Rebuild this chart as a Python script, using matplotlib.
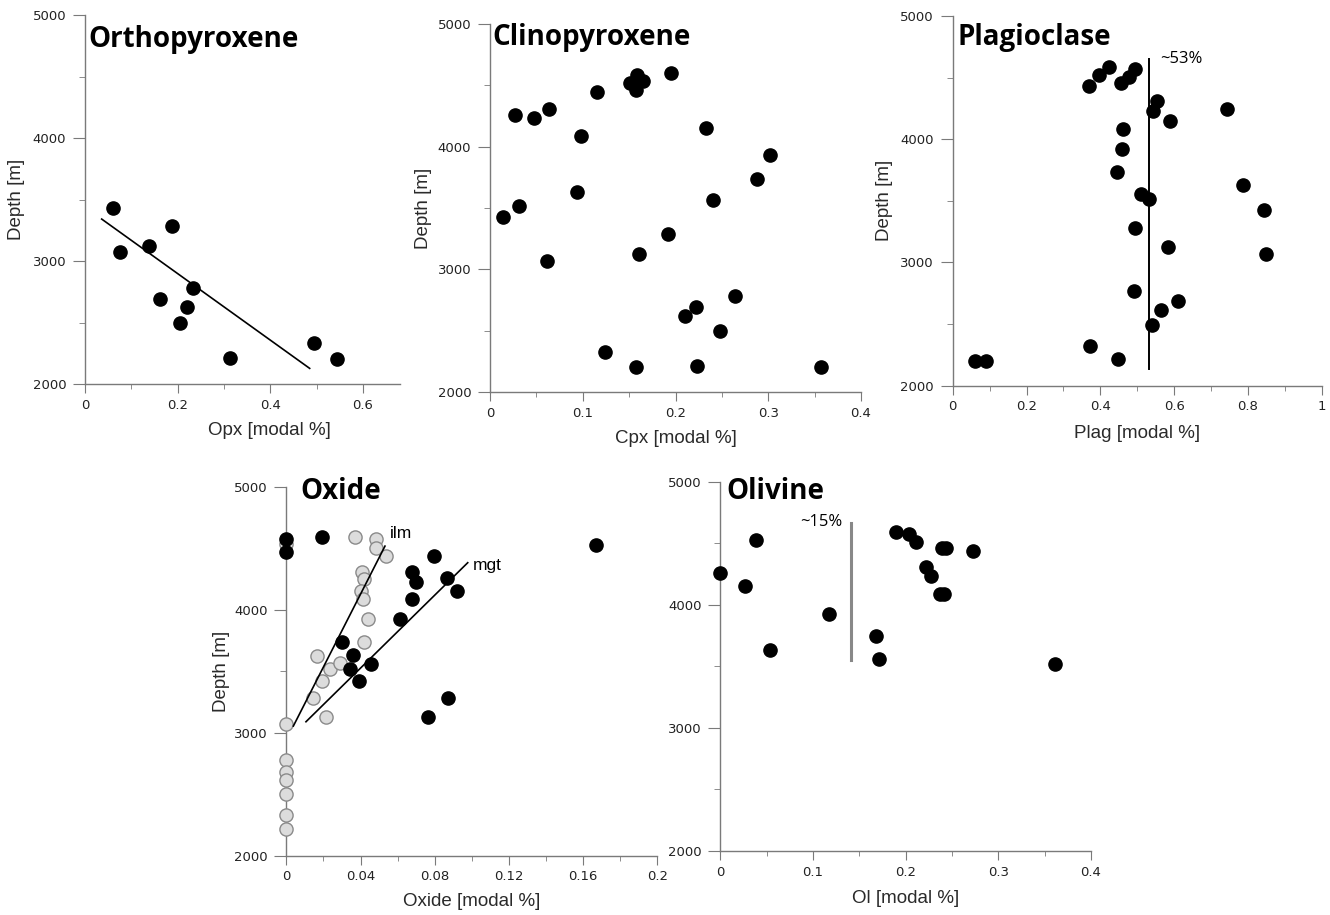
import matplotlib
matplotlib.use("Agg")
from matplotlib import pyplot as plt
from matplotlib.ticker import MultipleLocator, FormatStrFormatter

# --- data: modal % vs depth [m] ---
opx_x = [0.061, 0.076, 0.138, 0.188, 0.162, 0.233, 0.220, 0.206, 0.312, 0.494, 0.543]
opx_d = [3428, 3070, 3125, 3285, 2691, 2778, 2623, 2499, 2214, 2331, 2206]
opx_fit_x = [0.036, 0.485]
opx_fit_d = [3341, 2127]

cpx_x = [0.0144, 0.0313, 0.027, 0.0475, 0.064, 0.0986, 0.0939, 0.0615, 0.1158, 0.151,
         0.159, 0.165, 0.1576, 0.195, 0.2327, 0.3014, 0.2878, 0.2399, 0.1924, 0.1604,
         0.2637, 0.222, 0.2104, 0.2478, 0.1245, 0.1576, 0.2234, 0.3565]
cpx_d = [3428, 3518, 4259, 4237, 4310, 4088, 3634, 3072, 4443, 4517,
         4585, 4535, 4462, 4598, 4156, 3928, 3740, 3564, 3284, 3127,
         2779, 2690, 2622, 2497, 2326, 2201, 2209, 2201]

plag_x = [0.369, 0.396, 0.423, 0.457, 0.477, 0.495, 0.555, 0.542, 0.743, 0.588,
          0.462, 0.459, 0.444, 0.788, 0.510, 0.531, 0.844, 0.495, 0.584, 0.848,
          0.490, 0.611, 0.565, 0.540, 0.372, 0.448, 0.060, 0.090]
plag_d = [4435, 4524, 4589, 4459, 4502, 4573, 4310, 4229, 4248, 4150,
          4080, 3918, 3734, 3628, 3555, 3512, 3423, 3277, 3123, 3071,
          2771, 2687, 2617, 2492, 2325, 2214, 2200, 2200]
plag_mean = 0.531
plag_mean_d = [2135, 4648]

mgt_x = [0.0, 0.0, 0.0194, 0.1669, 0.0796, 0.0679, 0.0697, 0.0866, 0.0922, 0.0679,
         0.0613, 0.030, 0.0359, 0.0341, 0.0458, 0.039, 0.087, 0.0765]
mgt_d = [4575, 4466, 4588, 4526, 4436, 4309, 4228, 4257, 4149, 4084,
         3921, 3740, 3631, 3515, 3558, 3423, 3282, 3125]
ilm_x = [0.0, 0.0372, 0.0483, 0.0483, 0.0537, 0.0406, 0.0419, 0.0402, 0.0411, 0.044,
         0.0419, 0.0163, 0.0235, 0.0289, 0.0192, 0.0146, 0.0212, 0.0,
         0.0, 0.0, 0.0, 0.0, 0.0, 0.0]
ilm_d = [4534, 4591, 4577, 4499, 4436, 4309, 4249, 4152, 4084, 3921,
         3740, 3623, 3515, 3564, 3417, 3284, 3125, 3068,
         2778, 2683, 2615, 2499, 2331, 2214]
ilm_fit_x = [0.0038, 0.0532]
ilm_fit_d = [3054, 4517]
mgt_fit_x = [0.0106, 0.0978]
mgt_fit_d = [3089, 4382]

ol_x = [0.0, 0.0381, 0.027, 0.054, 0.1176, 0.1892, 0.2036, 0.2108, 0.239, 0.243,
        0.273, 0.222, 0.227, 0.237, 0.241, 0.168, 0.1712, 0.3612]
ol_d = [4255, 4526, 4155, 3633, 3925, 4591, 4575, 4510, 4458, 4458,
        4439, 4310, 4236, 4085, 4085, 3744, 3560, 3516]
ol_mean = 0.141
ol_mean_d = [3551, 4667]

W, H = 1330, 915
fig = plt.figure(figsize=(W / 100, H / 100), dpi=100)


def make_ax(left, top, right, bottom, xmax, major, minor):
    ax = fig.add_axes([left / W, (H - bottom) / H, (right - left) / W, (bottom - top) / H])
    ax.set_xlim(0, xmax)
    ax.set_ylim(2000, 5000)
    for s in ["top", "right"]:
        ax.spines[s].set_visible(False)
    for s in ["left", "bottom"]:
        ax.spines[s].set_color("#7a7a7a")
        ax.spines[s].set_linewidth(1.0)
    ax.xaxis.set_major_locator(MultipleLocator(major))
    ax.xaxis.set_minor_locator(MultipleLocator(minor))
    ax.yaxis.set_major_locator(MultipleLocator(1000))
    ax.yaxis.set_minor_locator(MultipleLocator(500))
    ax.xaxis.set_major_formatter(FormatStrFormatter("%g"))
    ax.tick_params(axis="x", which="major", length=6.5, pad=4, color="#7a7a7a")
    ax.tick_params(axis="x", which="minor", length=3.5, color="#7a7a7a")
    ax.tick_params(axis="y", which="major", length=8.5, pad=5, color="#7a7a7a")
    ax.tick_params(axis="y", which="minor", length=4, color="#7a7a7a")
    ax.tick_params(which="both", labelsize=9.5, labelcolor="#222222")
    return ax


def dots(ax, x, d, fc="black", ec="black"):
    ax.plot(x, d, "o", ms=9.5, mfc=fc, mec=ec, mew=1.0, clip_on=False, zorder=3)


def title(ax, txt, x, y):
    ax.text(x, y, txt, transform=ax.transAxes, fontsize=20, fontweight="bold",
            family="Open Sans", va="baseline", ha="left")


def labels(ax, xl, xy, yl=None, yx=None):
    ax.set_xlabel(xl, fontsize=13.5, family="Liberation Sans", color="#2a2a2a")
    ax.xaxis.set_label_coords(0.5 if xy[0] is None else xy[0], xy[1])
    if yl:
        ax.set_ylabel(yl, fontsize=13.5, family="Liberation Sans", color="#2a2a2a")
        ax.yaxis.set_label_coords(yx, 0.5)


# Orthopyroxene
ax1 = make_ax(85, 15, 400, 384, 0.68, 0.2, 0.1)
dots(ax1, opx_x, opx_d)
ax1.plot(opx_fit_x, opx_fit_d, color="black", lw=1.2)
title(ax1, "Orthopyroxene", 0.01, 0.914)
labels(ax1, "Opx [modal %]", (0.587, -0.102), "Depth [m]", -0.19)

# Clinopyroxene
ax2 = make_ax(490, 24, 861, 392, 0.4, 0.1, 0.05)
dots(ax2, cpx_x, cpx_d)
title(ax2, "Clinopyroxene", 0.007, 0.943)
labels(ax2, "Cpx [modal %]", (None, -0.103), "Depth [m]", -0.156)

# Plagioclase
ax3 = make_ax(952.7, 16, 1321.7, 385.7, 1.0, 0.2, 0.1)
dots(ax3, plag_x, plag_d)
ax3.plot([plag_mean, plag_mean], plag_mean_d, color="black", lw=1.4)
ax3.text(0.562, 4648, "~53%", fontsize=12, family="Open Sans", va="center", ha="left")
title(ax3, "Plagioclase", 0.014, 0.921)
labels(ax3, "Plag [modal %]", (None, -0.106), "Depth [m]", -0.161)

# Oxide
ax4 = make_ax(286.3, 486.7, 657.3, 855.7, 0.2, 0.04, 0.02)
dots(ax4, ilm_x, ilm_d, fc="#dcdcdc", ec="#8a8a8a")
dots(ax4, mgt_x, mgt_d)
ax4.plot(ilm_fit_x, ilm_fit_d, color="black", lw=1.2, zorder=4)
ax4.plot(mgt_fit_x, mgt_fit_d, color="black", lw=1.2, zorder=4)
ax4.text(0.0559, 4621, "ilm", fontsize=12.5, family="Liberation Sans", va="center", ha="left")
ax4.text(0.1008, 4363, "mgt", fontsize=12.5, family="Liberation Sans", va="center", ha="left")
title(ax4, "Oxide", 0.037, 0.966)
labels(ax4, "Oxide [modal %]", (None, -0.102), "Depth [m]", -0.152)

# Olivine
ax5 = make_ax(720.3, 481.7, 1091, 851, 0.4, 0.1, 0.05)
dots(ax5, ol_x, ol_d)
ax5.plot([ol_mean, ol_mean], ol_mean_d, color="#888888", lw=2.2)
ax5.text(0.132, 4675, "~15%", fontsize=12, family="Open Sans", va="center", ha="right")
title(ax5, "Olivine", 0.017, 0.952)
labels(ax5, "Ol [modal %]", (None, -0.106))

fig.savefig("out.png", dpi=100)
